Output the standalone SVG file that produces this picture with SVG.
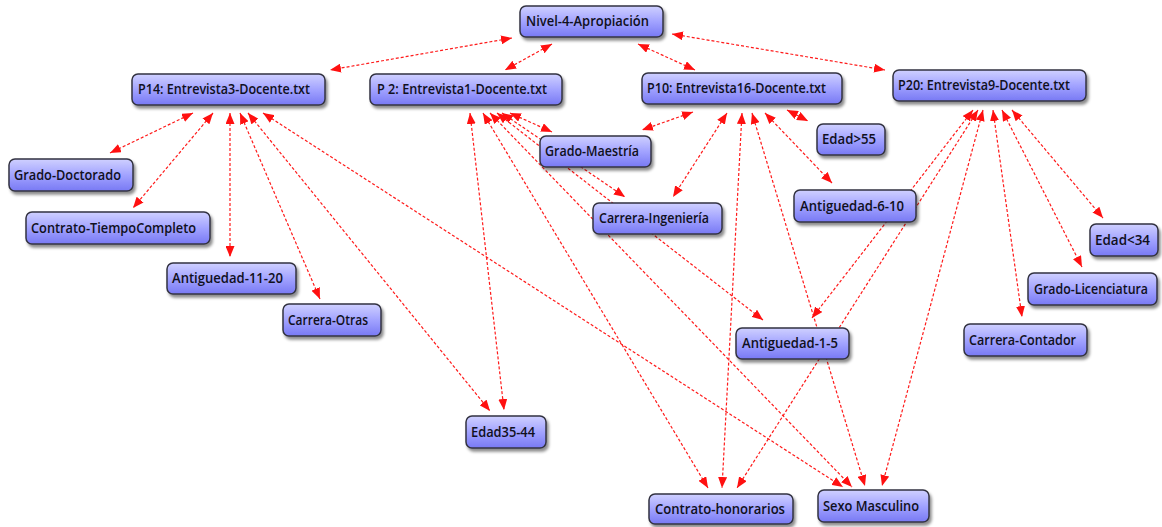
<svg xmlns="http://www.w3.org/2000/svg" width="1162" height="527" viewBox="0 0 1162 527">
<defs>
<linearGradient id="g" x1="0" y1="0" x2="0" y2="1">
<stop offset="0" stop-color="#cfd0ff"/>
<stop offset="0.5" stop-color="#a2a3ff"/>
<stop offset="1" stop-color="#7879f4"/>
</linearGradient>
<filter id="sh" x="-10%" y="-20%" width="130%" height="160%">
<feDropShadow dx="2" dy="3" stdDeviation="1.5" flood-color="#000" flood-opacity="0.45"/>
</filter>
<marker id="ah" viewBox="0 0 11 9" refX="11" refY="4.5" markerWidth="11" markerHeight="9" markerUnits="userSpaceOnUse" orient="auto-start-reverse">
<path d="M0,0 L11,4.5 L0,9 z" fill="#ff1010"/>
</marker>
<style>
.e{stroke:#ff1a1a;stroke-width:1.2;stroke-dasharray:3 2;fill:none;marker-start:url(#ah);marker-end:url(#ah)}
.b{fill:url(#g);stroke:#333340;stroke-width:1.5;filter:url(#sh)}
.t{font-family:"Open Sans","DejaVu Sans",sans-serif;font-weight:600;font-size:15px;fill:#101020}
</style>
</defs>
<g id="connectors">
<line class="e" x1="512" y1="38" x2="330" y2="70"/>
<line class="e" x1="552" y1="44" x2="505" y2="70"/>
<line class="e" x1="638" y1="44" x2="695" y2="70"/>
<line class="e" x1="672" y1="34" x2="885" y2="70"/>
<line class="e" x1="193" y1="113" x2="110" y2="153"/>
<line class="e" x1="213" y1="113" x2="133" y2="208"/>
<line class="e" x1="230" y1="113" x2="230" y2="257"/>
<line class="e" x1="240" y1="113" x2="320" y2="299"/>
<line class="e" x1="248" y1="113" x2="490" y2="411"/>
<line class="e" x1="263" y1="113" x2="843" y2="487"/>
<line class="e" x1="470" y1="113" x2="504" y2="410"/>
<line class="e" x1="483" y1="113" x2="708" y2="488"/>
<line class="e" x1="490" y1="113" x2="852" y2="487"/>
<line class="e" x1="497" y1="113" x2="763" y2="320"/>
<line class="e" x1="502" y1="113" x2="625" y2="197"/>
<line class="e" x1="510" y1="113" x2="552" y2="132"/>
<line class="e" x1="693" y1="112" x2="642" y2="130"/>
<line class="e" x1="727" y1="113" x2="673" y2="197"/>
<line class="e" x1="742" y1="113" x2="722" y2="488"/>
<line class="e" x1="752" y1="113" x2="865" y2="486"/>
<line class="e" x1="765" y1="113" x2="832" y2="183"/>
<line class="e" x1="787" y1="110" x2="808" y2="121"/>
<line class="e" x1="973" y1="110" x2="812" y2="318"/>
<line class="e" x1="978" y1="110" x2="737" y2="488"/>
<line class="e" x1="983" y1="110" x2="882" y2="486"/>
<line class="e" x1="993" y1="110" x2="1022" y2="317"/>
<line class="e" x1="1002" y1="110" x2="1082" y2="267"/>
<line class="e" x1="1012" y1="110" x2="1103" y2="218"/>
</g>
<g id="nivel"><rect class="b" x="520" y="6" width="143" height="31" rx="6"/><text class="t" x="526" y="26" textLength="123" lengthAdjust="spacingAndGlyphs">Nivel-4-Apropiación</text></g>
<g id="p14"><rect class="b" x="132" y="74" width="193" height="31" rx="6"/><text class="t" x="138" y="94" textLength="172" lengthAdjust="spacingAndGlyphs">P14: Entrevista3-Docente.txt</text></g>
<g id="p2"><rect class="b" x="370" y="74" width="192" height="31" rx="6"/><text class="t" x="377" y="94" textLength="170" lengthAdjust="spacingAndGlyphs">P 2: Entrevista1-Docente.txt</text></g>
<g id="p10"><rect class="b" x="642" y="73" width="200" height="31" rx="6"/><text class="t" x="647" y="93" textLength="179" lengthAdjust="spacingAndGlyphs">P10: Entrevista16-Docente.txt</text></g>
<g id="p20"><rect class="b" x="893" y="70" width="193" height="31" rx="6"/><text class="t" x="898" y="90" textLength="172" lengthAdjust="spacingAndGlyphs">P20: Entrevista9-Docente.txt</text></g>
<g id="grado-doctorado"><rect class="b" x="9" y="159" width="124" height="32" rx="6"/><text class="t" x="14" y="180" textLength="107" lengthAdjust="spacingAndGlyphs">Grado-Doctorado</text></g>
<g id="grado-maestria"><rect class="b" x="540" y="136" width="111" height="31" rx="6"/><text class="t" x="545" y="156" textLength="94" lengthAdjust="spacingAndGlyphs">Grado-Maestría</text></g>
<g id="edad55"><rect class="b" x="817" y="124" width="68" height="31" rx="6"/><text class="t" x="822" y="144" textLength="54" lengthAdjust="spacingAndGlyphs">Edad&gt;55</text></g>
<g id="contrato-tc"><rect class="b" x="26" y="212" width="184" height="32" rx="6"/><text class="t" x="31" y="233" textLength="165" lengthAdjust="spacingAndGlyphs">Contrato-TiempoCompleto</text></g>
<g id="antiguedad-11-20"><rect class="b" x="167" y="263" width="129" height="31" rx="6"/><text class="t" x="172" y="283" textLength="111" lengthAdjust="spacingAndGlyphs">Antiguedad-11-20</text></g>
<g id="carrera-otras"><rect class="b" x="283" y="304" width="98" height="32" rx="6"/><text class="t" x="288" y="325" textLength="80" lengthAdjust="spacingAndGlyphs">Carrera-Otras</text></g>
<g id="carrera-ingenieria"><rect class="b" x="593" y="203" width="129" height="31" rx="6"/><text class="t" x="599" y="223" textLength="110" lengthAdjust="spacingAndGlyphs">Carrera-Ingeniería</text></g>
<g id="antiguedad-6-10"><rect class="b" x="794" y="190" width="122" height="32" rx="6"/><text class="t" x="800" y="211" textLength="104" lengthAdjust="spacingAndGlyphs">Antiguedad-6-10</text></g>
<g id="edad34"><rect class="b" x="1090" y="224" width="68" height="32" rx="6"/><text class="t" x="1095" y="245" textLength="55" lengthAdjust="spacingAndGlyphs">Edad&lt;34</text></g>
<g id="grado-licenciatura"><rect class="b" x="1028" y="273" width="129" height="32" rx="6"/><text class="t" x="1034" y="294" style="font-size:13.5px" textLength="114" lengthAdjust="spacingAndGlyphs">Grado-Licenciatura</text></g>
<g id="carrera-contador"><rect class="b" x="964" y="324" width="123" height="32" rx="6"/><text class="t" x="969" y="345" textLength="107" lengthAdjust="spacingAndGlyphs">Carrera-Contador</text></g>
<g id="antiguedad-1-5"><rect class="b" x="736" y="328" width="113" height="31" rx="6"/><text class="t" x="742" y="348" textLength="96" lengthAdjust="spacingAndGlyphs">Antiguedad-1-5</text></g>
<g id="edad35-44"><rect class="b" x="466" y="416" width="80" height="32" rx="6"/><text class="t" x="471" y="437" textLength="64" lengthAdjust="spacingAndGlyphs">Edad35-44</text></g>
<g id="contrato-honorarios"><rect class="b" x="649" y="494" width="144" height="30" rx="6"/><text class="t" x="655" y="514" textLength="130" lengthAdjust="spacingAndGlyphs">Contrato-honorarios</text></g>
<g id="sexo-masculino"><rect class="b" x="818" y="490" width="111" height="32" rx="6"/><text class="t" x="823" y="511" textLength="96" lengthAdjust="spacingAndGlyphs">Sexo Masculino</text></g>
</svg>
